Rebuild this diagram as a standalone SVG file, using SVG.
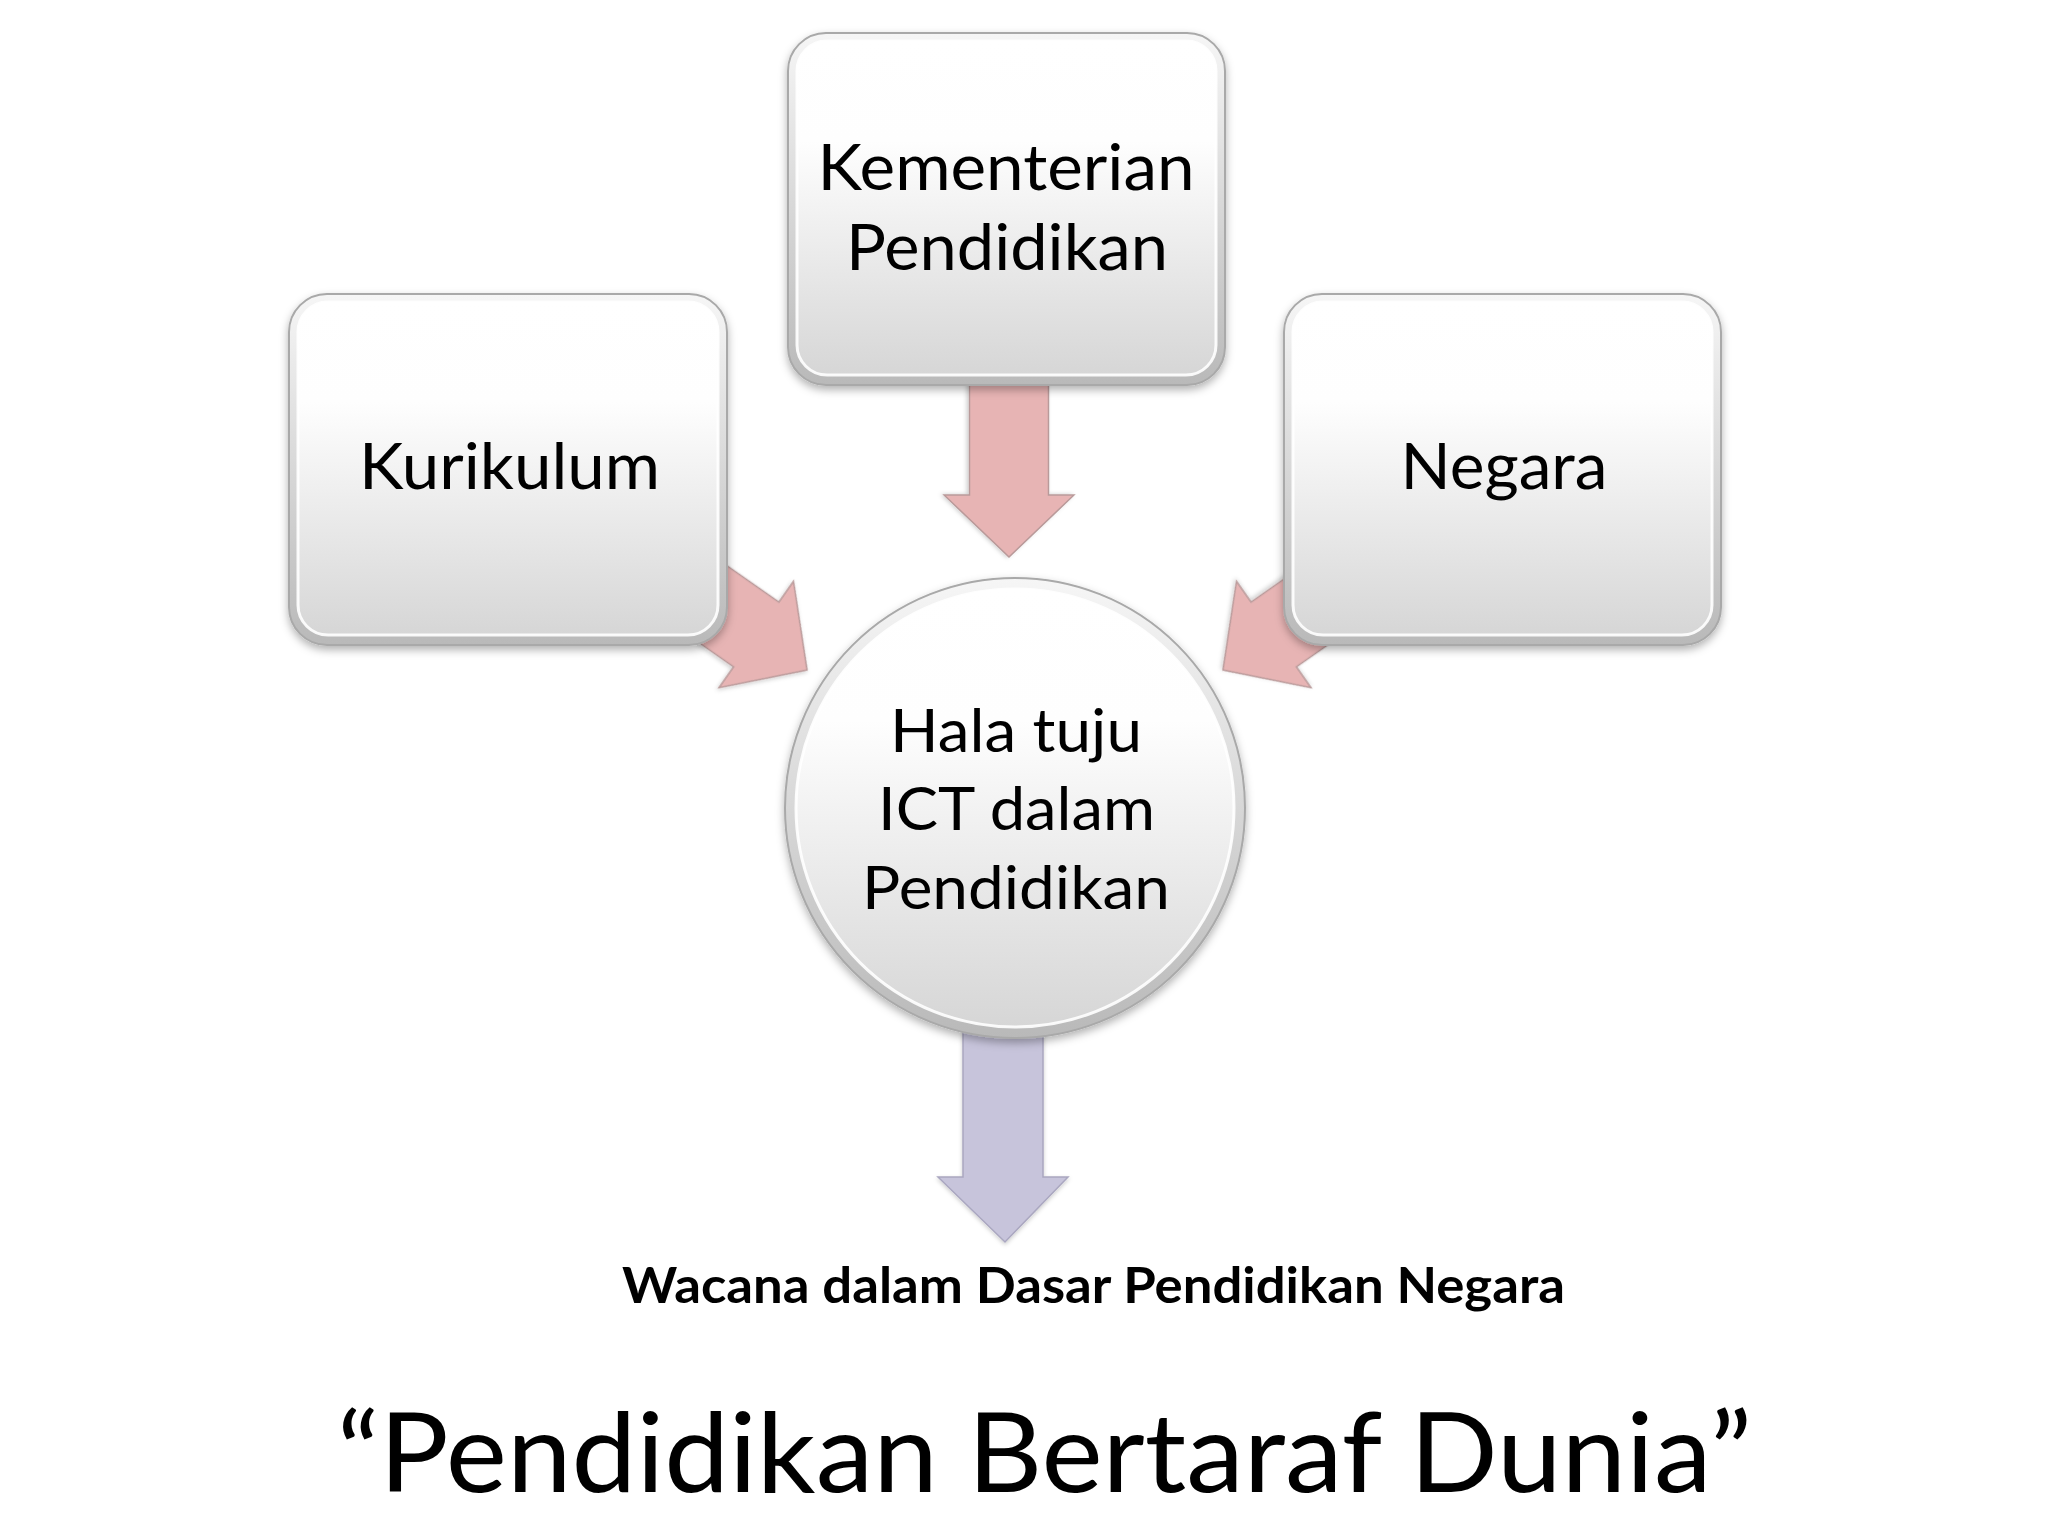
<svg xmlns="http://www.w3.org/2000/svg" width="2048" height="1536" viewBox="0 0 2048 1536">
  <defs>
    <linearGradient id="edge" x1="0" y1="0" x2="0" y2="1">
      <stop offset="0" stop-color="#f6f6f6"/>
      <stop offset="1" stop-color="#b9b9b9"/>
    </linearGradient>
    <linearGradient id="face" x1="0" y1="0" x2="0" y2="1">
      <stop offset="0" stop-color="#ffffff"/>
      <stop offset="0.3" stop-color="#fefefe"/>
      <stop offset="1" stop-color="#d6d6d6"/>
    </linearGradient>
    <filter id="shadow" x="-10%" y="-10%" width="120%" height="125%">
      <feDropShadow dx="0" dy="4" stdDeviation="4" flood-color="#000" flood-opacity="0.3"/>
    </filter>
    <filter id="soft" x="-10%" y="-10%" width="120%" height="120%">
      <feDropShadow dx="0" dy="2" stdDeviation="2" flood-color="#000" flood-opacity="0.2"/>
    </filter>
    <path id="arr" d="M0,-39.5 H118 V-65 L180,0 L118,65 V39.5 H0 Z"/>
  </defs>
  <style>
    .outer { fill: url(#edge); stroke: #a9a9a9; stroke-width: 2; filter: url(#shadow); }
    .inner { fill: url(#face); stroke: #ffffff; stroke-width: 3; stroke-opacity: 0.9; }
    .lbl { font-family: Lato, "Liberation Sans", sans-serif; fill: #000; text-anchor: middle; }
    .pink { fill: #e7b4b4; stroke: #b99a9a; stroke-width: 1.5; filter: url(#soft); }
    .purple { fill: #c7c4db; stroke: #aaa7c0; stroke-width: 1.5; filter: url(#soft); }
  </style>
  <rect width="2048" height="1536" fill="#ffffff"/>

  <g id="connectors">
    <use href="#arr" class="pink" transform="translate(1009,377) rotate(90)"/>
    <use href="#arr" class="pink" transform="translate(659.6,566.8) rotate(35)"/>
    <use href="#arr" class="pink" transform="translate(1370.4,566.8) rotate(145)"/>
    <path class="purple" d="M963,1030 H1043 V1177 H1068 L1005,1242 L938,1177 H963 Z"/>
  </g>

  <g id="node-kementerian">
    <rect class="outer" x="788" y="33" width="437" height="352" rx="38"/>
    <rect class="inner" x="797" y="41" width="419" height="334" rx="30"/>
    <text class="lbl" x="1006" y="190" font-size="63" textLength="377" lengthAdjust="spacingAndGlyphs">Kementerian</text>
    <text class="lbl" x="1007" y="270" font-size="63" textLength="322" lengthAdjust="spacingAndGlyphs">Pendidikan</text>
  </g>

  <g id="node-kurikulum">
    <rect class="outer" x="289" y="294" width="438" height="351" rx="38"/>
    <rect class="inner" x="298" y="302" width="420" height="333" rx="30"/>
    <text class="lbl" x="509.5" y="489" font-size="64" textLength="301" lengthAdjust="spacingAndGlyphs">Kurikulum</text>
  </g>

  <g id="node-negara">
    <rect class="outer" x="1284" y="294" width="437" height="351" rx="38"/>
    <rect class="inner" x="1293" y="302" width="419" height="333" rx="30"/>
    <text class="lbl" x="1504" y="489" font-size="64" textLength="207" lengthAdjust="spacingAndGlyphs">Negara</text>
  </g>

  <g id="node-halatuju">
    <circle class="outer" cx="1015" cy="808" r="230"/>
    <circle class="inner" cx="1015" cy="808" r="219"/>
    <text class="lbl" x="1016" y="752" font-size="60" textLength="252" lengthAdjust="spacingAndGlyphs">Hala tuju</text>
    <text class="lbl" x="1016.5" y="830" font-size="60" textLength="277" lengthAdjust="spacingAndGlyphs">ICT dalam</text>
    <text class="lbl" x="1016" y="909" font-size="60" textLength="308" lengthAdjust="spacingAndGlyphs">Pendidikan</text>
  </g>

  <g id="node-wacana">
    <text class="lbl" x="1093.5" y="1303" font-size="50" font-weight="bold" textLength="943" lengthAdjust="spacingAndGlyphs">Wacana dalam Dasar Pendidikan Negara</text>
  </g>

  <g id="title">
    <text class="lbl" x="1044.5" y="1492" font-size="110" textLength="1415" lengthAdjust="spacingAndGlyphs">“Pendidikan Bertaraf Dunia”</text>
  </g>
</svg>
